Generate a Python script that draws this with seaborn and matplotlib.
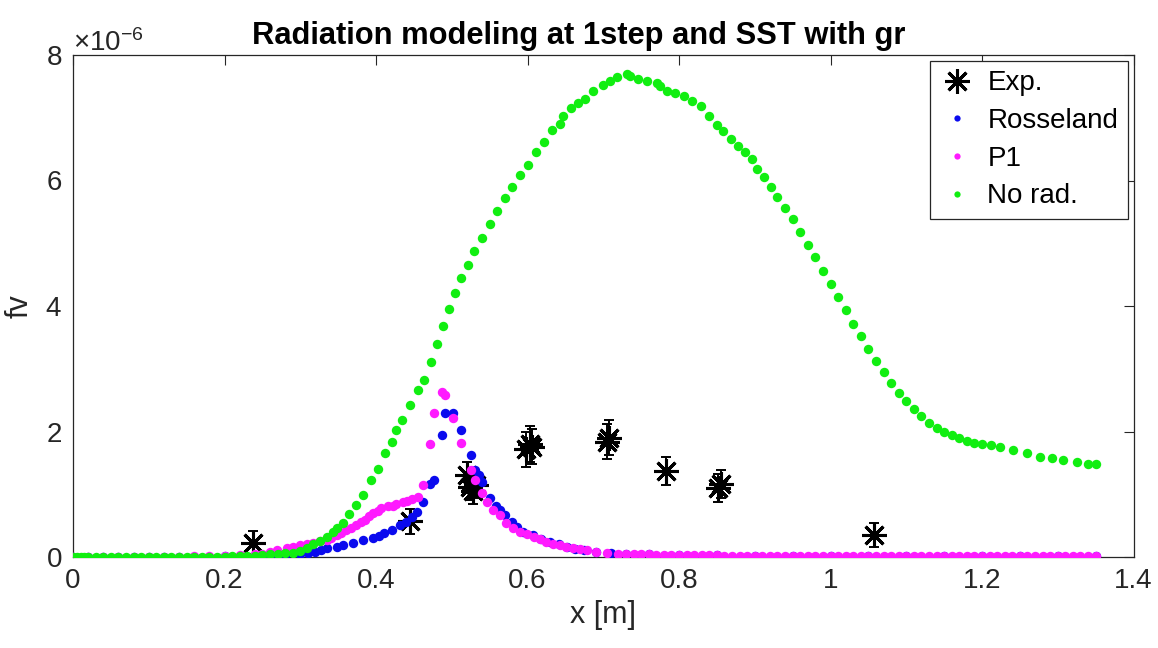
import numpy as np
import pandas as pd
import matplotlib
matplotlib.use("Agg")
import matplotlib.pyplot as plt
import seaborn as sns
from matplotlib.lines import Line2D
from matplotlib.ticker import ScalarFormatter

# ---------------- data (fv in units of 1e-6) ----------------
exp_x = [0.238, 0.445, 0.520, 0.524, 0.528, 0.532, 0.598, 0.603, 0.606, 0.705, 0.708, 0.783, 0.851, 0.855, 1.058]
exp_y = [0.23, 0.57, 1.30, 1.12, 1.05, 1.15, 1.72, 1.80, 1.76, 1.84, 1.90, 1.37, 1.10, 1.16, 0.35]
exp_err = [0.19, 0.20, 0.22, 0.21, 0.21, 0.21, 0.28, 0.28, 0.28, 0.28, 0.28, 0.23, 0.22, 0.22, 0.19]

ross_x = [0.00, 0.02, 0.04, 0.06, 0.08, 0.10, 0.12, 0.14, 0.16, 0.18, 0.20, 0.22, 0.24, 0.26, 0.28,
          0.30, 0.31, 0.319, 0.327, 0.335, 0.348, 0.357, 0.370, 0.383, 0.396, 0.404, 0.410, 0.421,
          0.432, 0.440, 0.447, 0.454, 0.462, 0.471, 0.476, 0.487, 0.491, 0.502, 0.512, 0.526, 0.531,
          0.536, 0.540, 0.550, 0.559, 0.564, 0.570, 0.579, 0.586, 0.594, 0.607, 0.618, 0.630, 0.641,
          0.652, 0.663, 0.674, 0.691, 0.710, 0.730, 0.760, 0.800, 0.850, 0.900, 0.950, 1.000, 1.050,
          1.100, 1.150, 1.200, 1.250, 1.300, 1.350]
ross_y = [0.00, 0.00, 0.00, 0.00, 0.00, 0.00, 0.00, 0.00, 0.00, 0.00, 0.01, 0.01, 0.01, 0.02, 0.03,
          0.04, 0.06, 0.08, 0.11, 0.14, 0.16, 0.19, 0.23, 0.27, 0.30, 0.34, 0.38, 0.43,
          0.51, 0.56, 0.63, 0.72, 0.88, 1.17, 1.23, 1.94, 2.29, 2.29, 2.02, 1.63, 1.39,
          1.30, 1.20, 0.94, 0.81, 0.75, 0.67, 0.56, 0.48, 0.40, 0.35, 0.29, 0.24, 0.20,
          0.16, 0.13, 0.11, 0.08, 0.06, 0.05, 0.04, 0.03, 0.03, 0.02, 0.02, 0.02, 0.02,
          0.02, 0.02, 0.02, 0.02, 0.02, 0.02]

p1_x = [0.00, 0.02, 0.04, 0.06, 0.08, 0.10, 0.12, 0.14, 0.16, 0.18, 0.20, 0.22, 0.24,
        0.250, 0.260, 0.269, 0.282, 0.291, 0.300, 0.309, 0.317, 0.326, 0.335, 0.341, 0.348, 0.354,
        0.361, 0.367, 0.374, 0.380, 0.385, 0.391, 0.396, 0.402, 0.407, 0.416, 0.422, 0.427, 0.436,
        0.441, 0.447, 0.456, 0.462, 0.471, 0.476, 0.487, 0.491, 0.501, 0.512, 0.526, 0.531, 0.540,
        0.546, 0.555, 0.564, 0.572, 0.581, 0.590, 0.599, 0.608, 0.616, 0.625, 0.634, 0.643, 0.651,
        0.660, 0.669, 0.678, 0.691, 0.705, 0.720, 0.730, 0.740, 0.750, 0.760, 0.770, 0.780, 0.790,
        0.800, 0.810, 0.820, 0.830, 0.840, 0.850, 0.860, 0.870, 0.880, 0.890, 0.900, 0.910, 0.920,
        0.930, 0.940, 0.950, 0.960, 0.970, 0.980, 0.990, 1.000, 1.010, 1.020, 1.030, 1.040, 1.050,
        1.060, 1.070, 1.080, 1.090, 1.100, 1.110, 1.120, 1.130, 1.140, 1.150, 1.160, 1.170, 1.180,
        1.190, 1.200, 1.210, 1.220, 1.230, 1.240, 1.250, 1.260, 1.270, 1.280, 1.290, 1.300, 1.310,
        1.320, 1.330, 1.340, 1.350]
p1_y = [0.00, 0.00, 0.00, 0.00, 0.00, 0.00, 0.00, 0.00, 0.01, 0.01, 0.02, 0.03, 0.04,
        0.05, 0.08, 0.11, 0.14, 0.16, 0.19, 0.21, 0.23, 0.25, 0.27, 0.31, 0.35, 0.39,
        0.43, 0.47, 0.51, 0.55, 0.59, 0.65, 0.70, 0.74, 0.78, 0.81, 0.82, 0.84, 0.87,
        0.89, 0.92, 0.96, 1.15, 1.80, 2.29, 2.63, 2.58, 2.21, 1.81, 1.39, 1.23, 1.02,
        0.88, 0.75, 0.67, 0.54, 0.46, 0.40, 0.36, 0.32, 0.28, 0.24, 0.21, 0.19, 0.16,
        0.14, 0.12, 0.11, 0.08, 0.06, 0.05, 0.05, 0.04, 0.04, 0.04, 0.03, 0.03, 0.03,
        0.03, 0.03, 0.03, 0.03, 0.03, 0.03, 0.02, 0.02, 0.02, 0.02, 0.02, 0.02, 0.02,
        0.02, 0.02, 0.02, 0.02, 0.02, 0.02, 0.02, 0.02, 0.02, 0.02, 0.02, 0.02, 0.02,
        0.02, 0.02, 0.02, 0.02, 0.02, 0.02, 0.02, 0.02, 0.02, 0.02, 0.02, 0.02, 0.02,
        0.02, 0.02, 0.02, 0.02, 0.02, 0.02, 0.02, 0.02, 0.02, 0.02, 0.02, 0.02, 0.02,
        0.02, 0.02, 0.02, 0.02]

norad_x = [0.000, 0.005, 0.010, 0.015, 0.020, 0.030, 0.040, 0.050, 0.060, 0.070, 0.080, 0.090,
           0.100, 0.110, 0.120, 0.130, 0.140, 0.150, 0.160, 0.170, 0.180, 0.190, 0.200, 0.210,
           0.220, 0.230, 0.240, 0.250, 0.260, 0.270, 0.280, 0.290,
           0.300, 0.309, 0.317, 0.326, 0.335, 0.343, 0.348, 0.357, 0.365, 0.374, 0.383, 0.394,
           0.403, 0.412, 0.421, 0.427, 0.434, 0.445, 0.456, 0.463, 0.472, 0.480, 0.488, 0.496,
           0.504, 0.512, 0.521, 0.530, 0.540, 0.550, 0.560, 0.570, 0.580, 0.590, 0.600, 0.611,
           0.622, 0.633, 0.643, 0.647, 0.658, 0.667, 0.676, 0.687, 0.700, 0.709, 0.718, 0.731,
           0.735, 0.746, 0.758, 0.771, 0.775, 0.784, 0.795, 0.807, 0.817, 0.829, 0.840, 0.850,
           0.858, 0.868, 0.878, 0.887, 0.896, 0.903, 0.912, 0.921, 0.930, 0.940, 0.950, 0.960,
           0.970, 0.980, 0.990, 1.000, 1.010, 1.020, 1.030, 1.040, 1.050, 1.060, 1.070, 1.080,
           1.090, 1.100, 1.110, 1.120, 1.130, 1.140, 1.150, 1.160, 1.170, 1.180, 1.190, 1.200,
           1.212, 1.224, 1.241, 1.259, 1.277, 1.292, 1.307, 1.325, 1.340, 1.350]
norad_y = [0.00, 0.00, 0.00, 0.00, 0.00, 0.00, 0.00, 0.00, 0.00, 0.00, 0.00, 0.00,
           0.00, 0.00, 0.00, 0.00, 0.00, 0.00, 0.00, 0.00, 0.00, 0.00, 0.00, 0.01,
           0.01, 0.02, 0.02, 0.03, 0.04, 0.05, 0.06, 0.07,
           0.09, 0.14, 0.20, 0.26, 0.32, 0.40, 0.46, 0.54, 0.68, 0.83, 0.99, 1.23,
           1.41, 1.65, 1.84, 2.02, 2.18, 2.42, 2.66, 2.82, 3.10, 3.40, 3.68, 3.95,
           4.20, 4.45, 4.66, 4.88, 5.08, 5.30, 5.52, 5.72, 5.90, 6.08, 6.25, 6.45,
           6.62, 6.80, 6.90, 7.03, 7.15, 7.24, 7.30, 7.42, 7.52, 7.59, 7.65, 7.70,
           7.66, 7.62, 7.59, 7.55, 7.51, 7.43, 7.39, 7.35, 7.26, 7.18, 7.03, 6.88,
           6.79, 6.66, 6.55, 6.46, 6.35, 6.19, 6.05, 5.90, 5.74, 5.56, 5.38, 5.18,
           4.98, 4.78, 4.56, 4.35, 4.14, 3.93, 3.72, 3.52, 3.32, 3.13, 2.95, 2.78,
           2.62, 2.48, 2.36, 2.25, 2.14, 2.05, 1.99, 1.94, 1.89, 1.85, 1.82, 1.80,
           1.78, 1.76, 1.70, 1.65, 1.60, 1.57, 1.54, 1.51, 1.49, 1.48]

series_names = ["Exp.", "Rosseland", "P1", "No rad."]
scale = 1e-6

# ---------------- style ----------------
sns.set_theme(style="white")
plt.rcParams["font.family"] = ["Liberation Sans", "DejaVu Sans"]
plt.rcParams["mathtext.fontset"] = "custom"
plt.rcParams["mathtext.rm"] = "Liberation Sans"

text_col = "#262626"
c_blue, c_mag, c_green = "#0a0aee", "#ff1aff", "#11ee11"
fig = plt.figure(figsize=(11.58, 6.48), dpi=100)
fig.patch.set_facecolor("white")
ax = fig.add_axes([73 / 1158, 1 - 557 / 648, (1133.5 - 73) / 1158, (557 - 55) / 648])

# Exp with error bars
ax.errorbar(np.array(exp_x), np.array(exp_y) * scale, yerr=np.array(exp_err) * scale,
            fmt="none", ecolor="black", elinewidth=1.4, capsize=3.5, capthick=1.4, zorder=2)
ax.plot(np.array(exp_x), np.array(exp_y) * scale, linestyle="none", marker=(8, 2, 0),
        markersize=18, markeredgewidth=2.2, color="black", zorder=2)

df_r = pd.DataFrame({"x": ross_x, "fv": np.array(ross_y) * scale})
df_p = pd.DataFrame({"x": p1_x, "fv": np.array(p1_y) * scale})
df_g = pd.DataFrame({"x": norad_x, "fv": np.array(norad_y) * scale})
dot_s = 46
sns.scatterplot(data=df_r, x="x", y="fv", ax=ax, color=c_blue, s=dot_s, linewidth=0, zorder=3)
sns.scatterplot(data=df_p, x="x", y="fv", ax=ax, color=c_mag, s=dot_s, linewidth=0, zorder=4)
sns.scatterplot(data=df_g, x="x", y="fv", ax=ax, color=c_green, s=dot_s, linewidth=0, zorder=5)

ax.set_xlim(0, 1.4)
ax.set_ylim(0, 8e-6)
xt = [0, 0.2, 0.4, 0.6, 0.8, 1.0, 1.2, 1.4]
ax.set_xticks(xt)
ax.set_xticklabels(["0", "0.2", "0.4", "0.6", "0.8", "1", "1.2", "1.4"])
ax.set_yticks([0, 2e-6, 4e-6, 6e-6, 8e-6])
fmt = ScalarFormatter(useMathText=True)
fmt.set_powerlimits((-3, 3))
ax.yaxis.set_major_formatter(fmt)

ax.tick_params(axis="both", which="major", direction="in", length=7, width=0.8,
               labelsize=20, colors=text_col, top=True, right=True, pad=8)
ax.yaxis.get_offset_text().set_fontsize(20)
ax.yaxis.get_offset_text().set_color(text_col)
for sp in ax.spines.values():
    sp.set_color(text_col)
    sp.set_linewidth(0.9)

ax.set_xlabel("x [m]", fontsize=22, color=text_col, labelpad=4)
ax.set_ylabel("fv", fontsize=22, color=text_col, labelpad=8)
ax.set_title("Radiation modeling at 1step and SST with gr", fontsize=22.2,
             fontweight="bold", color="black", pad=8, x=0.477)

handles = [
    Line2D([], [], linestyle="none", marker=(8, 2, 0), markersize=18, markeredgewidth=2.2, color="black"),
    Line2D([], [], linestyle="none", marker="o", markersize=4.5, color=c_blue, markeredgewidth=0),
    Line2D([], [], linestyle="none", marker="o", markersize=4.5, color=c_mag, markeredgewidth=0),
    Line2D([], [], linestyle="none", marker="o", markersize=4.5, color=c_green, markeredgewidth=0),
]
leg = ax.legend(handles, series_names, loc="upper right", fontsize=20, frameon=True,
                fancybox=False, framealpha=1, edgecolor=text_col, borderpad=0.35,
                labelspacing=0.42, handlelength=1.2, handletextpad=0.5,
                borderaxespad=0.2)
leg.get_frame().set_linewidth(0.9)
for t in leg.get_texts():
    t.set_color("black")

fig.savefig("out.png", dpi=100, facecolor="white")
